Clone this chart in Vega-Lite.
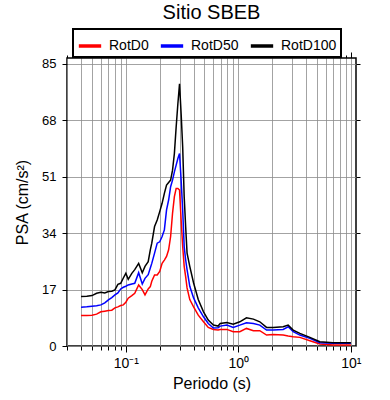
{
  "$schema": "https://vega.github.io/schema/vega-lite/v6.json",
  "width": 289,
  "height": 288,
  "autosize": {"type": "none"},
  "padding": {"left": 67, "top": 58, "right": 34, "bottom": 54},
  "background": "white",
  "title": {"text": "Sitio SBEB", "fontSize": 20, "fontWeight": "normal", "font": "Liberation Sans", "offset": 5, "color": "black"},
  "config": {
    "font": "Liberation Sans",
    "view": {"stroke": "black", "strokeWidth": 1.5},
    "axis": {"labelFontSize": 13, "labelColor": "black", "tickColor": "black", "gridColor": "#8c8c8c", "gridWidth": 0.8, "domain": false, "titleFontSize": 16, "titleFontWeight": "normal", "titleColor": "black"}
  },
  "data": {"values": [
    {"T":0.04,"RotD0":9.2,"RotD50":11.7,"RotD100":14.9},
    {"T":0.045,"RotD0":9.2,"RotD50":11.8,"RotD100":15.0},
    {"T":0.05,"RotD0":9.3,"RotD50":12.0,"RotD100":15.2},
    {"T":0.055,"RotD0":9.6,"RotD50":12.1,"RotD100":15.9},
    {"T":0.06,"RotD0":10.3,"RotD50":12.4,"RotD100":16.2},
    {"T":0.065,"RotD0":10.5,"RotD50":13.0,"RotD100":16.0},
    {"T":0.07,"RotD0":10.7,"RotD50":13.9,"RotD100":16.4},
    {"T":0.075,"RotD0":10.8,"RotD50":14.6,"RotD100":16.5},
    {"T":0.08,"RotD0":11.5,"RotD50":15.4,"RotD100":16.9},
    {"T":0.085,"RotD0":11.8,"RotD50":16.0,"RotD100":18.6},
    {"T":0.09,"RotD0":12.2,"RotD50":17.2,"RotD100":18.9},
    {"T":0.095,"RotD0":12.4,"RotD50":17.7,"RotD100":20.5},
    {"T":0.1,"RotD0":13.2,"RotD50":18.0,"RotD100":21.9},
    {"T":0.105,"RotD0":14.4,"RotD50":18.4,"RotD100":20.1},
    {"T":0.113,"RotD0":15.2,"RotD50":18.7,"RotD100":21.9},
    {"T":0.12,"RotD0":15.9,"RotD50":18.9,"RotD100":23.0},
    {"T":0.13,"RotD0":18.4,"RotD50":22.1,"RotD100":24.9},
    {"T":0.14,"RotD0":17.0,"RotD50":18.7,"RotD100":22.1},
    {"T":0.148,"RotD0":15.4,"RotD50":20.4,"RotD100":24.0},
    {"T":0.158,"RotD0":17.2,"RotD50":21.5,"RotD100":25.4},
    {"T":0.165,"RotD0":17.9,"RotD50":23.5,"RotD100":29.0},
    {"T":0.17,"RotD0":19.5,"RotD50":24.9,"RotD100":31.0},
    {"T":0.18,"RotD0":21.4,"RotD50":28.0,"RotD100":36.0},
    {"T":0.19,"RotD0":21.4,"RotD50":31.0,"RotD100":38.0},
    {"T":0.2,"RotD0":22.5,"RotD50":31.4,"RotD100":40.5},
    {"T":0.21,"RotD0":24.9,"RotD50":33.0,"RotD100":43.0},
    {"T":0.22,"RotD0":25.9,"RotD50":35.0,"RotD100":46.0},
    {"T":0.23,"RotD0":27.0,"RotD50":41.0,"RotD100":48.5},
    {"T":0.24,"RotD0":29.0,"RotD50":44.0,"RotD100":49.3},
    {"T":0.25,"RotD0":33.0,"RotD50":48.0,"RotD100":50.0},
    {"T":0.26,"RotD0":40.0,"RotD50":50.0,"RotD100":53.0},
    {"T":0.27,"RotD0":45.0,"RotD50":52.5,"RotD100":58.0},
    {"T":0.28,"RotD0":47.5,"RotD50":54.5,"RotD100":66.0},
    {"T":0.29,"RotD0":47.5,"RotD50":56.5,"RotD100":73.0},
    {"T":0.3,"RotD0":47.0,"RotD50":58.0,"RotD100":79.0},
    {"T":0.31,"RotD0":38.0,"RotD50":50.0,"RotD100":70.0},
    {"T":0.32,"RotD0":30.0,"RotD50":41.0,"RotD100":60.0},
    {"T":0.33,"RotD0":24.0,"RotD50":30.0,"RotD100":45.0},
    {"T":0.34,"RotD0":20.9,"RotD50":26.0,"RotD100":36.0},
    {"T":0.35,"RotD0":17.5,"RotD50":23.0,"RotD100":28.0},
    {"T":0.37,"RotD0":14.0,"RotD50":18.0,"RotD100":24.0},
    {"T":0.4,"RotD0":11.8,"RotD50":14.5,"RotD100":19.0},
    {"T":0.44,"RotD0":9.3,"RotD50":11.5,"RotD100":14.0},
    {"T":0.49,"RotD0":7.3,"RotD50":8.8,"RotD100":10.3},
    {"T":0.54,"RotD0":5.6,"RotD50":6.8,"RotD100":7.8},
    {"T":0.6,"RotD0":5.0,"RotD50":5.4,"RotD100":6.3},
    {"T":0.66,"RotD0":4.8,"RotD50":5.5,"RotD100":6.0},
    {"T":0.69,"RotD0":5.0,"RotD50":6.0,"RotD100":6.8},
    {"T":0.79,"RotD0":5.0,"RotD50":6.3,"RotD100":7.1},
    {"T":0.9,"RotD0":4.3,"RotD50":5.6,"RotD100":6.6},
    {"T":1.03,"RotD0":4.3,"RotD50":6.3,"RotD100":7.3},
    {"T":1.18,"RotD0":5.3,"RotD50":7.0,"RotD100":8.5},
    {"T":1.36,"RotD0":4.6,"RotD50":6.8,"RotD100":8.1},
    {"T":1.55,"RotD0":4.6,"RotD50":6.3,"RotD100":7.3},
    {"T":1.78,"RotD0":3.3,"RotD50":4.8,"RotD100":5.6},
    {"T":2.04,"RotD0":3.5,"RotD50":4.8,"RotD100":5.6},
    {"T":2.5,"RotD0":3.3,"RotD50":5.0,"RotD100":5.8},
    {"T":2.77,"RotD0":3.0,"RotD50":5.8,"RotD100":6.3},
    {"T":3.07,"RotD0":2.8,"RotD50":4.3,"RotD100":4.8},
    {"T":3.52,"RotD0":2.6,"RotD50":3.3,"RotD100":3.8},
    {"T":4.32,"RotD0":1.6,"RotD50":2.3,"RotD100":2.6},
    {"T":5.3,"RotD0":0.6,"RotD50":1.0,"RotD100":1.3},
    {"T":6.95,"RotD0":0.3,"RotD50":0.8,"RotD100":1.0},
    {"T":10,"RotD0":0.3,"RotD50":0.8,"RotD100":1.0}
  ]},
  "transform": [{"fold": ["RotD0", "RotD50", "RotD100"], "as": ["s", "v"]}],
  "layer": [
    {
      "mark": {"type": "line", "strokeWidth": 1.5, "clip": true},
      "encoding": {
        "x": {"field": "T", "type": "quantitative", "scale": {"type": "log", "domain": [0.03, 11.1], "nice": false},
          "axis": {"orient": "bottom", "values": [0.03,0.04,0.05,0.06,0.07,0.08,0.09,0.1,0.2,0.3,0.4,0.5,0.6,0.7,0.8,0.9,1,2,3,4,5,6,7,8,9,10], "labels": false, "tickSize": 4, "grid": true, "title": "Periodo (s)", "titlePadding": 25}},
        "y": {"field": "v", "type": "quantitative", "scale": {"domain": [0, 86.8], "nice": false, "zero": true},
          "axis": {"orient": "left", "values": [0,17,34,51,68,85], "tickSize": 5, "labelPadding": 6, "grid": true, "title": "PSA (cm/s²)", "titlePadding": 11}},
        "color": {"field": "s", "type": "nominal", "scale": {"domain": ["RotD0", "RotD50", "RotD100"], "range": ["#ff0000", "#0000ff", "#000000"]},
          "legend": {"title": null, "orient": "none", "legendX": 6, "legendY": -29, "direction": "horizontal", "columns": 3, "symbolType": "stroke", "symbolSize": 500, "symbolStrokeWidth": 3.5, "labelFontSize": 14, "labelOffset": 6, "columnPadding": 4, "padding": 4, "strokeColor": "black", "fillColor": "white", "labelColor": "black",
            "encode": {"legend": {"update": {"strokeWidth": {"value": 2}}}}}}
      }
    },
    {
      "mark": {"type": "line", "opacity": 0},
      "encoding": {
        "x": {"field": "T", "type": "quantitative", "axis": {"orient": "top", "values": [0.03,0.04,0.05,0.06,0.07,0.08,0.09,0.2,0.3,0.4,0.5,0.6,0.7,0.8,0.9,2,3,4,5,6,7,8,9], "labels": false, "tickSize": 3, "grid": false, "title": null}},
        "y": {"field": "v", "type": "quantitative", "axis": {"orient": "right", "values": [17,34,51,68,85], "labels": false, "tickSize": 4, "grid": false, "title": null}}
      }
    },
    {
      "mark": {"type": "line", "opacity": 0},
      "encoding": {
        "x": {"field": "T", "type": "quantitative", "axis": {"orient": "bottom", "values": [0.1, 1, 10], "labelExpr": "datum.value < 0.5 ? '10⁻¹' : datum.value < 5 ? '10⁰' : '10¹'", "tickSize": 6, "labelPadding": 4, "labelFontSize": 14, "grid": false, "title": null}}
      }
    },
    {
      "mark": {"type": "line", "opacity": 0},
      "encoding": {
        "x": {"field": "T", "type": "quantitative", "axis": {"orient": "top", "values": [0.1, 1, 10], "labels": false, "tickSize": 6, "grid": false, "title": null}}
      }
    }
  ],
  "resolve": {"axis": {"x": "independent", "y": "independent"}}
}
